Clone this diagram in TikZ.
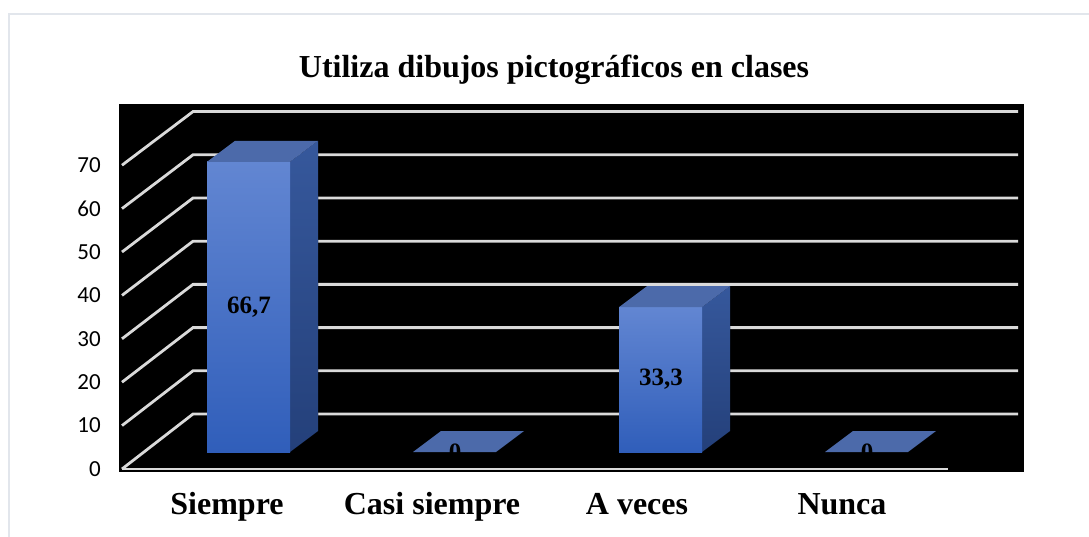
\documentclass[tikz,border=0pt]{standalone}
\usepackage{fontspec}
\setmainfont{Liberation Serif}
\newfontfamily\axisfont{Carlito}
\usepackage{tikz}
\usetikzlibrary{calc, positioning}
\definecolor{framegray}{RGB}{226,230,236}
\definecolor{gridgray}{RGB}{218,218,218}
\definecolor{barlight}{RGB}{98,134,210}
\definecolor{bardark}{RGB}{48,94,186}
\definecolor{sidelight}{RGB}{54,88,156}
\definecolor{sidedark}{RGB}{36,64,122}
\definecolor{bartop}{RGB}{76,106,170}
\tikzset{
    gridline/.style = {draw=gridgray, line width=2.8pt}, % the white lines of floor and back wall
    frontface/.style = {top color=barlight, bottom color=bardark},
    sideface/.style = {top color=sidelight, bottom color=sidedark},
    topface/.style = {fill=bartop}, % also the flat plate of a zero bar
    ticklabel/.style = {font=\axisfont\fontsize{23}{27}\selectfont, anchor=east, inner sep=0pt},
    vallabel/.style = {font=\bfseries\fontsize{25}{30}\selectfont, inner sep=0pt},
    catlabel/.style = {font=\bfseries\fontsize{32}{38}\selectfont, inner sep=0pt, anchor=base}
}
\begin{document}
\begin{tikzpicture}[x=1pt, y=-1pt]
  \useasboundingbox (0,0) rectangle (1089,537);
  \draw[framegray, line width=2pt] (9,537) -- (9,14) -- (1089,14);
  \node[catlabel] (title) at (554,78) {Utiliza dibujos pictográficos en clases};
  \fill[black] (119,104) rectangle (1024,472);
  % grid: front end, slanted floor line, back wall line
  \foreach \v in {0,10,...,70}{
    \coordinate (f\v) at (122,{469-4.34*\v});
    \coordinate (b\v) at (193,{414-4.32*\v});
    \draw[gridline] (f\v) -- (b\v) -- ++(825,0);
    \node[ticklabel] (t\v) at (101,{469-4.34*\v}) {\v};
  }
  \draw[gridline] (f0) -- ++(826,0);
  % bars
  \foreach \i/\val/\txt/\lab in {0/66.7/{66,7}/Siempre, 1/0/0/Casi siempre, 2/33.3/{33,3}/A veces, 3/0/0/Nunca}{
    \pgfmathsetmacro\xl{207+206*\i}
    \pgfmathsetmacro\yt{452-4.35*\val}
    \ifdim\val pt>0pt
      \fill[sideface] (\xl+83,452) -- (\xl+83,\yt) -- (\xl+111,\yt-21) -- (\xl+111,431) -- cycle;
      \fill[frontface] (\xl,\yt) rectangle (\xl+83,452);
    \fi
    \fill[topface] (\xl,\yt) -- (\xl+28,\yt-21) -- (\xl+111,\yt-21) -- (\xl+83,\yt) -- cycle;
    \node[vallabel] (v\i) at (\xl+42,{(452+\yt)/2}) {\txt};
    \node[catlabel] (c\i) at ({227+205*\i},514) {\lab};
  }
\end{tikzpicture}
\end{document}
